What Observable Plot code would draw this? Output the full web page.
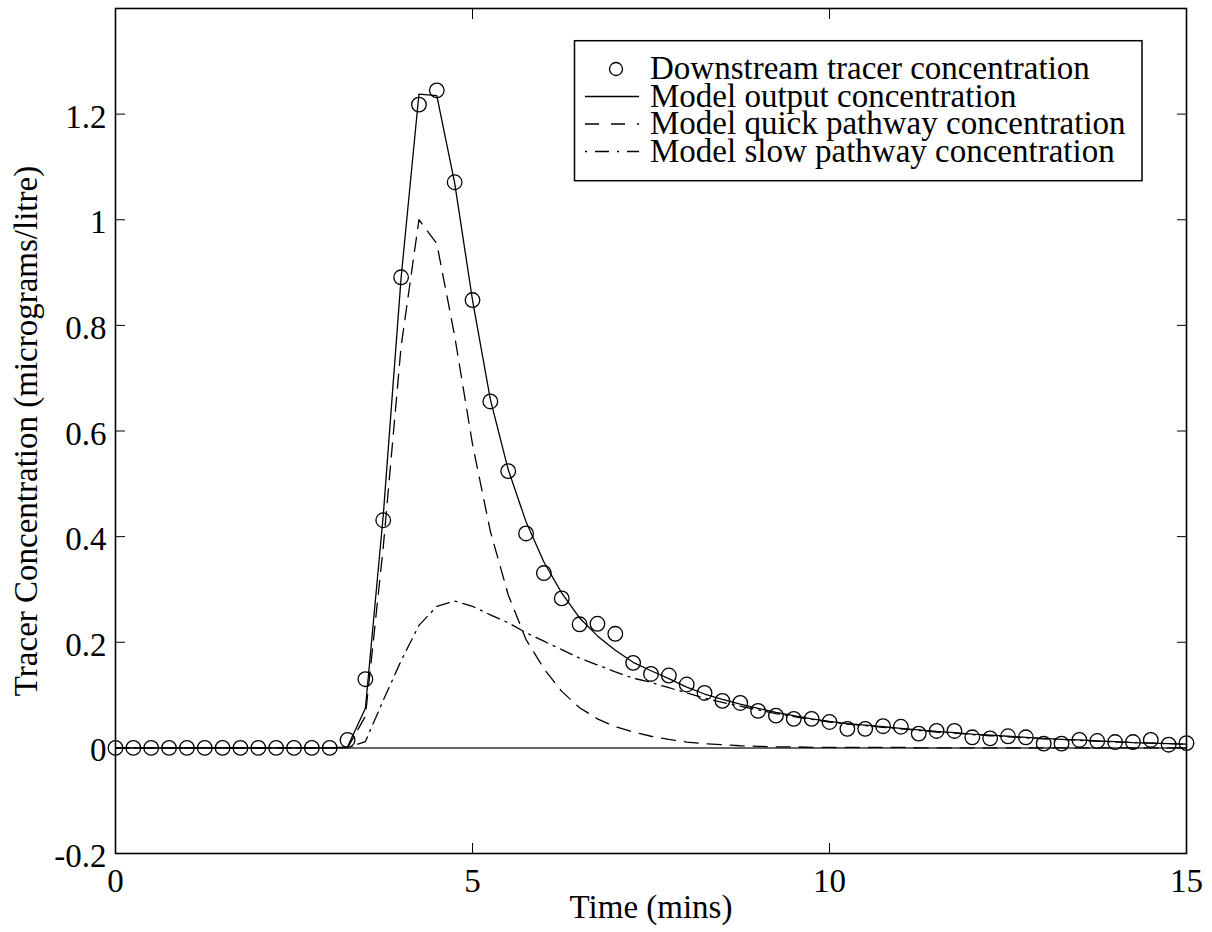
<!DOCTYPE html>
<html>
<head>
<meta charset="utf-8">
<script src="https://cdn.jsdelivr.net/npm/d3@7"></script>
<script src="https://cdn.jsdelivr.net/npm/@observablehq/plot@0.6"></script>
<style>
  html, body { margin: 0; padding: 0; background: #fff; }
  #wrap { position: relative; width: 1212px; height: 932px; font-family: "Liberation Serif", "Times New Roman", serif; }
  #wrap > svg { position: absolute; left: 0; top: 0; }
</style>
</head>
<body>
<div id="wrap"></div>
<script>
// ---- data ----
const times = [0,0.25,0.5,0.75,1,1.25,1.5,1.75,2,2.25,2.5,2.75,3,3.25,3.5,3.75,4,4.25,4.5,4.75,5,5.25,5.5,5.75,6,6.25,6.5,6.75,7,7.25,7.5,7.75,8,8.25,8.5,8.75,9,9.25,9.5,9.75,10,10.25,10.5,10.75,11,11.25,11.5,11.75,12,12.25,12.5,12.75,13,13.25,13.5,13.75,14,14.25,14.5,14.75,15];

const observed = [0,0,0,0,0,0,0,0,0,0,0,0,0,
  0.015,0.13,0.431,0.891,1.218,1.245,1.071,0.848,0.656,0.524,0.406,0.331,0.283,0.234,0.235,0.216,0.161,0.140,0.137,0.120,0.104,0.089,0.085,0.070,0.061,0.055,0.055,0.049,0.036,0.036,0.041,0.040,0.027,0.032,0.032,0.020,0.018,0.022,0.020,0.008,0.008,0.015,0.013,0.011,0.011,0.015,0.006,0.009];

const modelOutput = [0,0,0,0,0,0,0,0,0,0,0,0,0,
  0.002,0.075,0.44,0.89,1.238,1.235,1.07,0.848,0.66,0.527,0.428,0.352,0.293,0.246,0.212,0.185,0.162,0.146,0.131,0.115,0.102,0.092,0.083,0.075,0.067,0.061,0.055,0.050,0.046,0.043,0.040,0.037,0.034,0.031,0.029,0.026,0.024,0.022,0.020,0.018,0.016,0.015,0.013,0.012,0.010,0.009,0.008,0.007];

const modelQuick = [0,0,0,0,0,0,0,0,0,0,0,0,0,
  0,0.06,0.38,0.76,1.0,0.955,0.78,0.575,0.41,0.29,0.205,0.15,0.107,0.076,0.055,0.040,0.030,0.022,0.016,0.011,0.008,0.006,0.004,0.003,0.002,0.002,0.001,0.001,0.001,0.001,0.001,0.001,0,0,0,0,0,0,0,0,0,0,0,0,0,0,0,0];

const modelSlow = [0,0,0,0,0,0,0,0,0,0,0,0,0,
  0,0.012,0.09,0.165,0.232,0.268,0.278,0.268,0.252,0.237,0.218,0.202,0.186,0.170,0.157,0.144,0.132,0.124,0.114,0.104,0.094,0.086,0.079,0.072,0.065,0.059,0.054,0.049,0.045,0.042,0.039,0.036,0.033,0.030,0.028,0.025,0.023,0.021,0.019,0.017,0.016,0.014,0.013,0.011,0.010,0.009,0.008,0.007];

const xTicks = [0, 5, 10, 15];
const yTicks = [-0.2, 0, 0.2, 0.4, 0.6, 0.8, 1, 1.2];
const seriesNames = [
  "Downstream tracer concentration",
  "Model output concentration",
  "Model quick pathway concentration",
  "Model slow pathway concentration"
];
const xLabel = "Time (mins)";
const yLabel = "Tracer Concentration (micrograms/litre)";

// ---- styles ----
const FONT = "'Liberation Serif', 'Times New Roman', serif";
const dashQuick = "14,9";
const dashSlow = "13,6,2,6";
const lw = 1.3;

const rows = times.map((t, i) => ({
  t, observed: observed[i], output: modelOutput[i], quick: modelQuick[i], slow: modelSlow[i]
}));

const chart = Plot.plot({
  width: 1212,
  height: 932,
  marginLeft: 115,
  marginRight: 26,
  marginTop: 8,
  marginBottom: 79,
  x: { domain: [0, 15] },
  y: { domain: [-0.2, 1.4] },
  style: { fontFamily: FONT, fontSize: "33px", color: "black", background: "white" },
  marks: [
    Plot.ruleY([0], { stroke: "#666", strokeWidth: 2 }),
    Plot.line(rows, { x: "t", y: "output", stroke: "black", strokeWidth: lw }),
    Plot.line(rows, { x: "t", y: "quick", stroke: "black", strokeWidth: lw, strokeDasharray: dashQuick }),
    Plot.line(rows, { x: "t", y: "slow", stroke: "black", strokeWidth: lw, strokeDasharray: dashSlow }),
    Plot.dot(rows, { x: "t", y: "observed", r: 7.3, stroke: "black", fill: "none", strokeWidth: lw }),
    Plot.frame({ stroke: "black", strokeWidth: 1.6 }),
    // inward ticks on all four sides
    Plot.axisX(xTicks, { anchor: "bottom", tickSize: -10, tickFormat: () => "", label: null }),
    Plot.axisX(xTicks, { anchor: "top", tickSize: -10, tickFormat: () => "", label: null }),
    Plot.axisY(yTicks, { anchor: "left", tickSize: -10, tickFormat: () => "", label: null }),
    Plot.axisY(yTicks, { anchor: "right", tickSize: -10, tickFormat: () => "", label: null }),
    // tick labels
    Plot.axisX(xTicks, { anchor: "bottom", tickSize: 0, tickPadding: 15, tickFormat: d => String(d), label: null, fontSize: 33 }),
    Plot.axisY(yTicks, { anchor: "left", tickSize: 0, tickPadding: 9, tickFormat: d => String(d), label: null, dy: 3, fontSize: 33 }),
    // axis titles
    Plot.text([xLabel], { frameAnchor: "bottom", dy: 41, lineAnchor: "top", textAnchor: "middle", fontSize: 33 }),
    Plot.text([yLabel], { frameAnchor: "left", dx: -89, rotate: -90, textAnchor: "middle", lineAnchor: "middle", fontSize: 33 })
  ]
});

const wrap = document.getElementById("wrap");
wrap.appendChild(chart);

// ---- legend (overlay) ----
const leg = d3.select(wrap).append("svg")
  .attr("width", 1212).attr("height", 932)
  .style("pointer-events", "none")
  .attr("font-family", FONT).attr("font-size", 33);

const box = { x: 574.5, y: 40.7, w: 567.5, h: 140 };
leg.append("rect")
  .attr("x", box.x).attr("y", box.y).attr("width", box.w).attr("height", box.h)
  .attr("fill", "white").attr("stroke", "black").attr("stroke-width", 1.5);

const baselines = [79, 106.5, 134, 161.5];
const swX1 = 585, swX2 = 639, txtX = 650;
const kinds = ["dot", "solid", "quick", "slow"];
seriesNames.forEach((name, i) => {
  const by = baselines[i];
  const cy = by - 10;
  if (kinds[i] === "dot") {
    leg.append("circle").attr("cx", (swX1 + swX2) / 2 + 4).attr("cy", cy).attr("r", 6.5)
      .attr("fill", "none").attr("stroke", "black").attr("stroke-width", lw);
  } else {
    const l = leg.append("line").attr("x1", swX1).attr("x2", swX2).attr("y1", cy).attr("y2", cy)
      .attr("stroke", "black").attr("stroke-width", lw);
    if (kinds[i] === "quick") l.attr("stroke-dasharray", "14,12");
    if (kinds[i] === "slow") l.attr("stroke-dasharray", "2,8,14,8");
  }
  leg.append("text").attr("x", txtX).attr("y", by).attr("fill", "black").text(name);
});
</script>
</body>
</html>
